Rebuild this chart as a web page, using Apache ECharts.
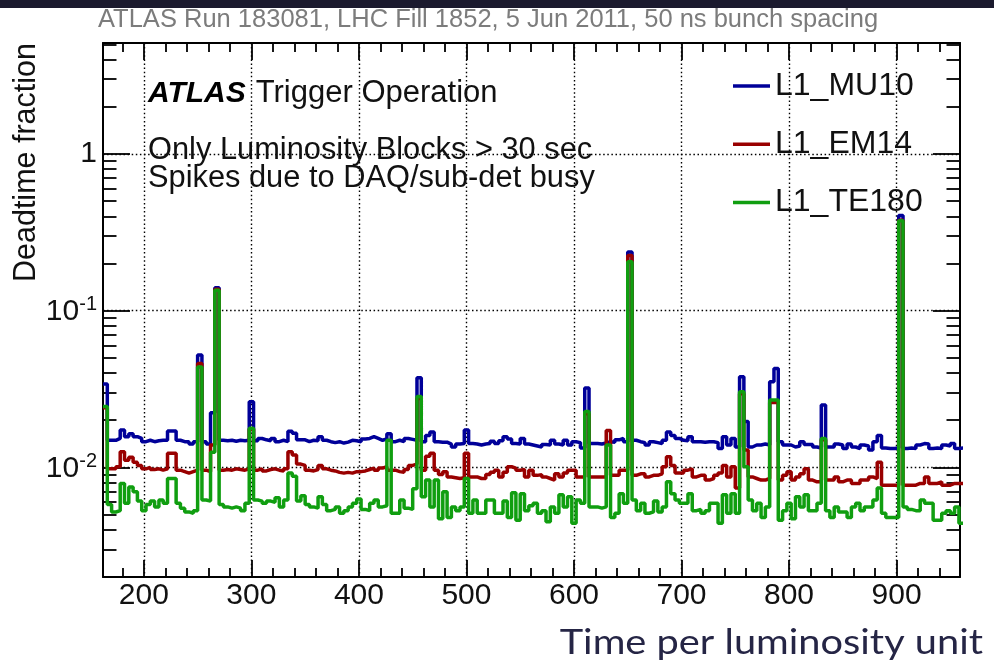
<!DOCTYPE html>
<html>
<head>
<meta charset="utf-8">
<script src="https://cdn.jsdelivr.net/npm/echarts@6/dist/echarts.min.js"></script>
<style>
  html, body { margin: 0; padding: 0; background: #fff; }
  #chart { width: 994px; height: 668px; }
</style>
</head>
<body>
<div id="chart"></div>
<script>
// Luminosity-block binning: each value covers LB_BIN blocks starting at LB_FIRST
const LB_FIRST = 162;
const LB_LAST = 959;
const LB_BIN = 4;

const xMajorTicks = [200, 300, 400, 500, 600, 700, 800, 900];
const xMinorTicks = [180, 220, 240, 260, 280, 320, 340, 360, 380, 420, 440, 460, 480,
  520, 540, 560, 580, 620, 640, 660, 680, 720, 740, 760, 780, 820, 840, 860, 880, 920, 940];
const yMajorTicks = [0.01, 0.1, 1];
const yMinorTicks = [0.002, 0.003, 0.004, 0.005, 0.006, 0.007, 0.008, 0.009,
  0.02, 0.03, 0.04, 0.05, 0.06, 0.07, 0.08, 0.09,
  0.2, 0.3, 0.4, 0.5, 0.6, 0.7, 0.8, 0.9, 2, 3, 4, 5];

const seriesNames = ['L1_MU10', 'L1_EM14', 'L1_TE180'];

// Deadtime fraction per bin
const mu10 = [
  0.0340, 0.0149, 0.0149, 0.0153, 0.0173, 0.0157, 0.0164, 0.0157, 0.0153, 0.0146,
  0.0149, 0.0146, 0.0148, 0.0149, 0.0149, 0.0171, 0.0171, 0.0149, 0.0146, 0.0146,
  0.0141, 0.0146, 0.0522, 0.0146, 0.0141, 0.0223, 0.1400, 0.0149, 0.0148, 0.0149,
  0.0147, 0.0149, 0.0148, 0.0149, 0.0262, 0.0148, 0.0153, 0.0150, 0.0148, 0.0153,
  0.0146, 0.0149, 0.0146, 0.0170, 0.0165, 0.0150, 0.0150, 0.0146, 0.0149, 0.0148,
  0.0157, 0.0149, 0.0146, 0.0144, 0.0146, 0.0143, 0.0145, 0.0149, 0.0148, 0.0146,
  0.0152, 0.0153, 0.0157, 0.0153, 0.0149, 0.0152, 0.0164, 0.0146, 0.0149, 0.0146,
  0.0153, 0.0151, 0.0149, 0.0373, 0.0146, 0.0160, 0.0168, 0.0146, 0.0145, 0.0145,
  0.0141, 0.0135, 0.0141, 0.0142, 0.0173, 0.0142, 0.0141, 0.0139, 0.0141, 0.0142,
  0.0147, 0.0142, 0.0148, 0.0157, 0.0152, 0.0142, 0.0141, 0.0153, 0.0141, 0.0139,
  0.0137, 0.0135, 0.0140, 0.0139, 0.0149, 0.0141, 0.0139, 0.0149, 0.0139, 0.0146,
  0.0144, 0.0133, 0.0321, 0.0142, 0.0142, 0.0141, 0.0143, 0.0146, 0.0145, 0.0150,
  0.0153, 0.0146, 0.2370, 0.0149, 0.0146, 0.0144, 0.0139, 0.0146, 0.0144, 0.0142,
  0.0149, 0.0168, 0.0160, 0.0153, 0.0149, 0.0148, 0.0157, 0.0146, 0.0146, 0.0145,
  0.0146, 0.0146, 0.0144, 0.0132, 0.0157, 0.0139, 0.0153, 0.0135, 0.0379, 0.0196,
  0.0135, 0.0139, 0.0139, 0.0141, 0.0139, 0.0352, 0.0428, 0.0146, 0.0139, 0.0139,
  0.0135, 0.0137, 0.0146, 0.0140, 0.0140, 0.0135, 0.0133, 0.0250, 0.0135, 0.0135,
  0.0141, 0.0139, 0.0132, 0.0141, 0.0135, 0.0132, 0.0139, 0.0137, 0.0129, 0.0146,
  0.0160, 0.0133, 0.0132, 0.0132, 0.0133, 0.4050, 0.0132, 0.0133, 0.0132, 0.0139,
  0.0142, 0.0141, 0.0132, 0.0133, 0.0132, 0.0139, 0.0137, 0.0142, 0.0132, 0.0133
];

const em14 = [
  0.0240, 0.0098, 0.0098, 0.0101, 0.0126, 0.0111, 0.0116, 0.0108, 0.0103, 0.0098,
  0.0100, 0.0097, 0.0098, 0.0096, 0.0098, 0.0123, 0.0123, 0.0096, 0.0094, 0.0092,
  0.0094, 0.0096, 0.0460, 0.0096, 0.0094, 0.0139, 0.1370, 0.0096, 0.0097, 0.0096,
  0.0098, 0.0097, 0.0096, 0.0098, 0.0175, 0.0096, 0.0098, 0.0095, 0.0097, 0.0098,
  0.0096, 0.0095, 0.0098, 0.0126, 0.0120, 0.0105, 0.0103, 0.0096, 0.0095, 0.0097,
  0.0103, 0.0098, 0.0096, 0.0095, 0.0093, 0.0092, 0.0093, 0.0092, 0.0094, 0.0094,
  0.0095, 0.0097, 0.0099, 0.0096, 0.0099, 0.0101, 0.0096, 0.0096, 0.0094, 0.0093,
  0.0097, 0.0103, 0.0105, 0.0275, 0.0096, 0.0118, 0.0123, 0.0096, 0.0090, 0.0094,
  0.0087, 0.0086, 0.0085, 0.0086, 0.0123, 0.0087, 0.0087, 0.0085, 0.0085, 0.0090,
  0.0093, 0.0096, 0.0087, 0.0093, 0.0101, 0.0099, 0.0096, 0.0097, 0.0087, 0.0096,
  0.0089, 0.0090, 0.0087, 0.0085, 0.0083, 0.0091, 0.0087, 0.0092, 0.0096, 0.0096,
  0.0087, 0.0087, 0.0220, 0.0087, 0.0087, 0.0087, 0.0087, 0.0172, 0.0089, 0.0089,
  0.0096, 0.0096, 0.2250, 0.0089, 0.0091, 0.0091, 0.0087, 0.0089, 0.0089, 0.0091,
  0.0101, 0.0117, 0.0103, 0.0092, 0.0092, 0.0096, 0.0098, 0.0087, 0.0089, 0.0089,
  0.0083, 0.0085, 0.0089, 0.0092, 0.0103, 0.0087, 0.0101, 0.0074, 0.0295, 0.0129,
  0.0087, 0.0085, 0.0083, 0.0083, 0.0085, 0.0260, 0.0260, 0.0083, 0.0089, 0.0094,
  0.0083, 0.0087, 0.0091, 0.0098, 0.0083, 0.0081, 0.0081, 0.0150, 0.0083, 0.0083,
  0.0087, 0.0081, 0.0083, 0.0083, 0.0079, 0.0079, 0.0083, 0.0083, 0.0087, 0.0085,
  0.0108, 0.0077, 0.0077, 0.0077, 0.0077, 0.3780, 0.0077, 0.0077, 0.0077, 0.0079,
  0.0079, 0.0087, 0.0079, 0.0079, 0.0081, 0.0077, 0.0077, 0.0079, 0.0079, 0.0079
];

const te180 = [
  0.0245, 0.0058, 0.0052, 0.0053, 0.0079, 0.0059, 0.0075, 0.0070, 0.0061, 0.0053,
  0.0058, 0.0061, 0.0056, 0.0062, 0.0059, 0.0085, 0.0085, 0.0059, 0.0055, 0.0052,
  0.0051, 0.0053, 0.0438, 0.0062, 0.0061, 0.0125, 0.1350, 0.0058, 0.0056, 0.0055,
  0.0056, 0.0055, 0.0053, 0.0059, 0.0178, 0.0062, 0.0061, 0.0059, 0.0061, 0.0060,
  0.0064, 0.0056, 0.0062, 0.0092, 0.0088, 0.0061, 0.0066, 0.0058, 0.0056, 0.0055,
  0.0065, 0.0058, 0.0053, 0.0054, 0.0056, 0.0051, 0.0053, 0.0056, 0.0059, 0.0063,
  0.0054, 0.0053, 0.0059, 0.0062, 0.0056, 0.0057, 0.0149, 0.0051, 0.0051, 0.0062,
  0.0055, 0.0054, 0.0073, 0.0283, 0.0065, 0.0083, 0.0056, 0.0083, 0.0047, 0.0070,
  0.0048, 0.0056, 0.0053, 0.0056, 0.0085, 0.0051, 0.0062, 0.0051, 0.0051, 0.0062,
  0.0062, 0.0051, 0.0051, 0.0061, 0.0048, 0.0069, 0.0046, 0.0068, 0.0053, 0.0057,
  0.0059, 0.0051, 0.0053, 0.0045, 0.0056, 0.0051, 0.0067, 0.0056, 0.0065, 0.0044,
  0.0062, 0.0059, 0.0227, 0.0056, 0.0056, 0.0055, 0.0056, 0.0139, 0.0048, 0.0051,
  0.0068, 0.0059, 0.2050, 0.0062, 0.0053, 0.0059, 0.0051, 0.0052, 0.0061, 0.0052,
  0.0056, 0.0081, 0.0068, 0.0062, 0.0059, 0.0059, 0.0068, 0.0053, 0.0054, 0.0051,
  0.0053, 0.0059, 0.0059, 0.0044, 0.0067, 0.0051, 0.0068, 0.0051, 0.0304, 0.0101,
  0.0062, 0.0053, 0.0059, 0.0048, 0.0056, 0.0269, 0.0269, 0.0046, 0.0053, 0.0059,
  0.0047, 0.0065, 0.0056, 0.0067, 0.0053, 0.0053, 0.0059, 0.0153, 0.0053, 0.0048,
  0.0056, 0.0052, 0.0052, 0.0048, 0.0056, 0.0059, 0.0053, 0.0056, 0.0056, 0.0062,
  0.0074, 0.0051, 0.0048, 0.0048, 0.0048, 0.3750, 0.0056, 0.0054, 0.0053, 0.0053,
  0.0062, 0.0059, 0.0059, 0.0046, 0.0046, 0.0051, 0.0053, 0.0051, 0.0056, 0.0044
];

const FONT = '"Liberation Sans", Arial, Helvetica, sans-serif';
const INK = '#111';
const lineColors = ['#000099', '#990000', '#109e10'];

// Histogram drawn as a step line: one point at the start of each bin plus a closing edge
function histogramPoints(values) {
  const pts = values.map((v, i) => [LB_FIRST + i * LB_BIN, v]);
  pts.push([LB_FIRST + values.length * LB_BIN, values[values.length - 1]]);
  return pts;
}

const frameLine = { show: true, lineStyle: { color: '#000', width: 2 } };
const gridLine = { show: true, lineStyle: { color: '#000', width: 1.4, type: [1.5, 2.6] } };
const noLabel = { show: false };

function xAxisDef(grid, pos, ticks, len, main) {
  return {
    type: 'value', gridIndex: grid, position: pos, min: LB_FIRST, max: LB_LAST,
    axisLine: main ? frameLine : { show: false },
    axisTick: { show: true, inside: true, length: len, customValues: ticks,
      lineStyle: { color: '#000', width: 1.8 } },
    axisLabel: (main && pos === 'bottom') ? {
      customValues: ticks, fontSize: 30, fontFamily: FONT, color: INK, margin: 4
    } : noLabel,
    splitLine: (main && pos === 'bottom') ? gridLine : { show: false }
  };
}

function yAxisDef(grid, pos, ticks, len, main) {
  const withLabels = main && pos === 'left';
  return {
    type: 'log', logBase: 10, gridIndex: grid, position: pos, min: 0.002, max: 5.1,
    axisLine: main ? frameLine : { show: false },
    axisTick: { show: true, inside: true, length: len, customValues: ticks,
      lineStyle: { color: '#000', width: 1.8 } },
    axisLabel: withLabels ? {
      customValues: ticks, margin: 6, color: INK,
      formatter: v => {
        const e = Math.round(Math.log10(v));
        return e === 0 ? '{one|1}' : '{b|10}{s|' + e + '}';
      },
      rich: {
        one: { fontSize: 30, lineHeight: 30, fontFamily: FONT, color: INK },
        b: { fontSize: 30, lineHeight: 30, padding: [12, 0, 0, 0], verticalAlign: 'bottom', fontFamily: FONT, color: INK },
        s: { fontSize: 20, lineHeight: 32, verticalAlign: 'top', fontFamily: FONT, color: INK }
      }
    } : noLabel,
    splitLine: withLabels ? gridLine : { show: false }
  };
}

const plotRect = { left: 103, top: 43, width: 857, height: 534 };

const chart = echarts.init(document.getElementById('chart'), null, { renderer: 'canvas' });
chart.setOption({
  animation: false,
  backgroundColor: '#fff',
  grid: [Object.assign({}, plotRect), Object.assign({}, plotRect)],
  xAxis: [
    xAxisDef(0, 'bottom', xMajorTicks, 17, true),
    xAxisDef(0, 'top', xMajorTicks, 17, true),
    xAxisDef(1, 'bottom', xMinorTicks, 9, false),
    xAxisDef(1, 'top', xMinorTicks, 9, false)
  ],
  yAxis: [
    yAxisDef(0, 'left', yMajorTicks, 27, true),
    yAxisDef(0, 'right', yMajorTicks, 27, true),
    yAxisDef(1, 'left', yMinorTicks, 13.5, false),
    yAxisDef(1, 'right', yMinorTicks, 13.5, false)
  ],
  legend: {
    data: seriesNames, orient: 'vertical', left: 728, top: 65,
    icon: 'rect', itemWidth: 37, itemHeight: 3.5, itemGap: 26.3,
    selectedMode: false,
    textStyle: { fontSize: 32, lineHeight: 30, fontFamily: FONT, color: INK }
  },
  series: [mu10, em14, te180].map((vals, i) => ({
    name: seriesNames[i], type: 'line', xAxisIndex: 0, yAxisIndex: 0,
    step: 'end', showSymbol: false, symbol: 'none', z: 2 + i,
    data: histogramPoints(vals),
    lineStyle: { color: lineColors[i], width: 3.5 },
    itemStyle: { color: lineColors[i] }
  })),
  graphic: [
    { type: 'rect', left: 0, top: 0, shape: { width: 994, height: 8 }, style: { fill: '#1b1a2e' }, silent: true },
    { type: 'text', x: 98, y: 20, silent: true,
      style: { text: 'ATLAS Run 183081, LHC Fill 1852, 5 Jun 2011, 50 ns bunch spacing',
        fontSize: 25.5, fontFamily: FONT, fill: '#7c7c7c', align: 'left', verticalAlign: 'middle' } },
    { type: 'text', x: 26.5, y: 43, rotation: Math.PI / 2, silent: true,
      style: { text: 'Deadtime fraction', fontSize: 30.5, fontFamily: FONT, fill: INK,
        align: 'right', verticalAlign: 'middle' } },
    { type: 'text', x: 148, y: 93.5, silent: true, z: 10,
      style: { text: '{a|ATLAS}{b|Trigger Operation}', align: 'left', verticalAlign: 'middle',
        rich: {
          a: { fontSize: 30, fontFamily: FONT, fontWeight: 'bold', fontStyle: 'italic', fill: '#000', lineHeight: 34 },
          b: { fontSize: 31, fontFamily: FONT, fill: INK, lineHeight: 34, padding: [0, 0, 0, 10] }
        } } },
    { type: 'text', x: 148, y: 150.5, silent: true, z: 10,
      style: { text: 'Only Luminosity Blocks > 30 sec', fontSize: 30.8, fontFamily: FONT, fill: INK,
        align: 'left', verticalAlign: 'middle' } },
    { type: 'text', x: 148, y: 179, silent: true, z: 10,
      style: { text: 'Spikes due to DAQ/sub-det busy', fontSize: 30.8, fontFamily: FONT, fill: INK,
        align: 'left', verticalAlign: 'middle' } },
    { type: 'text', x: 983, y: 643, scaleX: 1.17, silent: true,
      style: { text: 'Time per luminosity unit', fontSize: 34, fontFamily: 'Lato, "Open Sans", sans-serif',
        fill: '#252545', align: 'right', verticalAlign: 'middle' } }
  ]
});
</script>
</body>
</html>
